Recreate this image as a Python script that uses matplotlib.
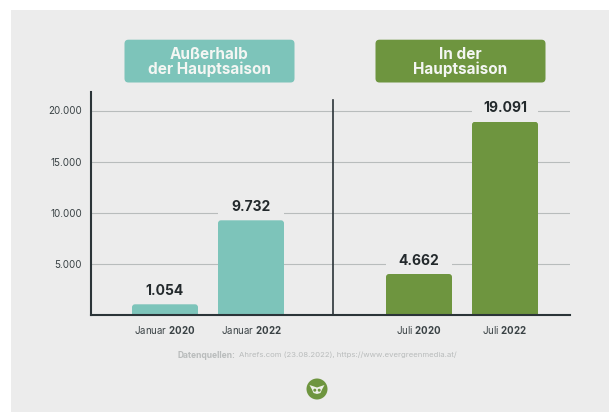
import matplotlib
matplotlib.use('Agg')
import matplotlib.pyplot as plt
from matplotlib.patches import FancyBboxPatch, Rectangle, Circle, Polygon, PathPatch
from matplotlib.path import Path

# --- data ---
months = ['Januar', 'Januar', 'Juli', 'Juli']
years = ['2020', '2022', '2020', '2022']
# heights as drawn in the picture (they sit a bit off the printed labels)
bar_heights = [1074, 9277, 4033, 18900]
value_labels = ['1.054', '9.732', '4.662', '19.091']
y_ticks = [5000, 10000, 15000, 20000]
y_tick_labels = ['5.000', '10.000', '15.000', '20.000']
group_titles = ['Außerhalb\nder Hauptsaison', 'In der\nHauptsaison']
source_bold = 'Datenquellen:'
source_text = 'Ahrefs.com (23.08.2022), https://www.evergreenmedia.at/'

# --- style ---
W, H = 609, 412
bg = '#ececec'
teal = '#7dc4ba'
green = '#6e953f'
dark = '#2b3438'
grid_col = '#b8bcbc'
src_col = '#b9bcbc'
bar_colors = [teal, teal, green, green]
font = 'Inter'

plt.rcParams['font.family'] = [font, 'DejaVu Sans']
plt.rcParams['mathtext.fontset'] = 'custom'
plt.rcParams['mathtext.rm'] = font
plt.rcParams['mathtext.bf'] = font + ':bold'
plt.rcParams['mathtext.default'] = 'rm'

fig = plt.figure(figsize=(W / 100, H / 100), dpi=100, facecolor='white')

# background layer in pixel coordinates
back = fig.add_axes([0, 0, 1, 1], zorder=0)
back.set_xlim(0, W)
back.set_ylim(H, 0)
back.axis('off')
back.add_patch(Rectangle((11, 10), W - 11, 401.5, color=bg, lw=0))

# chart axes: x axis runs in pixels from the left spine
px_left, px_right, px_top, px_base = 91, 569.5, 92, 315.3
ax = fig.add_axes([px_left / W, 1 - px_base / H, (px_right - px_left) / W, (px_base - px_top) / H], zorder=1)
ax.patch.set_alpha(0)
px_per_unit = 51.2 / 5000
ax.set_xlim(0, px_right - px_left)
ax.set_ylim(0, (px_base - px_top) / px_per_unit)

positions = [74, 160, 328, 414]
bar_w = 66

ax.set_yticks(y_ticks, y_tick_labels)
ax.set_xticks(positions, [f'{m} $\\mathbf{{{y}}}$' for m, y in zip(months, years)])
ax.tick_params(axis='both', length=0, labelcolor='#3a4245')
ax.tick_params(axis='y', pad=6.5, labelsize=7.1)
ax.tick_params(axis='x', pad=6, labelsize=7.0)
ax.grid(axis='y', color=grid_col, lw=0.8, zorder=1)
ax.set_axisbelow(True)
for s in ['top', 'right']:
    ax.spines[s].set_visible(False)
for s in ['left', 'bottom']:
    ax.spines[s].set_color(dark)
    ax.spines[s].set_linewidth(1.5)
    ax.spines[s].set_zorder(5)

# divider between the two groups
ax.plot([242.3, 242.3], [0, (px_base - 99.5) / px_per_unit], color=dark, lw=1.2, zorder=3)

# bars with rounded top corners
bars = ax.bar(positions, bar_heights, width=bar_w, color=bar_colors, zorder=4)
r = 3
ry = r / px_per_unit
for b, v, lab in zip(bars, bar_heights, value_labels):
    x0, x1 = b.get_x(), b.get_x() + b.get_width()
    verts = [(x0, 0), (x0, v - ry), (x0, v), (x0 + r, v), (x1 - r, v), (x1, v), (x1, v - ry), (x1, 0), (x0, 0)]
    codes = [Path.MOVETO, Path.LINETO, Path.CURVE3, Path.CURVE3, Path.LINETO, Path.CURVE3, Path.CURVE3, Path.LINETO, Path.CLOSEPOLY]
    b.set_clip_path(PathPatch(Path(verts, codes), transform=ax.transData))
    # gap in the grid lines above the bar
    ax.add_patch(Rectangle((x0, v), bar_w, 2500, color=bg, lw=0, zorder=2))
    ax.text(x0 + bar_w / 2, v + 13.5 / px_per_unit, lab, ha='center', va='center',
            fontsize=10.0, fontweight='bold', color='#23292c', zorder=6, clip_on=False)

# header boxes
over = fig.add_axes([0, 0, 1, 1], zorder=2)
over.set_xlim(0, W)
over.set_ylim(H, 0)
over.axis('off')
for x0, col, title in zip([124.5, 375.5], [teal, green], group_titles):
    over.add_patch(FancyBboxPatch((x0 + 4, 39.7 + 4), 170 - 8, 42.8 - 8, boxstyle='round,pad=4,rounding_size=4',
                                  fc=col, ec='none'))
    over.text(x0 + 85, 62, title, ha='center', va='center', color='#f4f6f3', fontsize=11,
              fontweight='bold', linespacing=1.0)

# source line
t = over.text(178, 355, source_bold, ha='left', va='center', fontsize=6.1, fontweight='bold', color=src_col)
over.annotate(source_text, xy=(1, 0.5), xycoords=t, xytext=(2.5, 0), textcoords='offset points',
              ha='left', va='center', fontsize=5.6, color=src_col)

# logo
cx, cy = 317, 389
over.add_patch(Circle((cx, cy), 10.5, color=green, lw=0))
over.add_patch(Polygon([(cx - 7.5, cy - 4), (cx, cy - 1.5), (cx + 7.5, cy - 4), (cx + 5, cy + 0.5), (cx + 3.5, cy + 4),
                        (cx, cy + 5), (cx - 3.5, cy + 4), (cx - 5, cy + 0.5)], color='#eef0e8', lw=0))
for dx in [-2.2, 2.2]:
    over.add_patch(Circle((cx + dx, cy + 1.2), 1.5, fc=green, ec='none'))

fig.savefig('out.png', dpi=100, facecolor='white')
